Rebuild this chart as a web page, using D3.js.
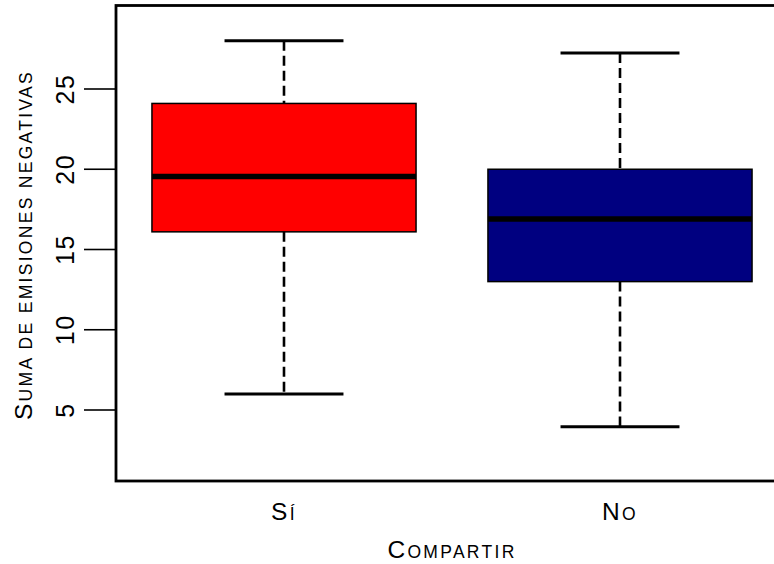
<!DOCTYPE html>
<html>
<head>
<meta charset="utf-8">
<script src="https://cdn.jsdelivr.net/npm/d3@7"></script>
<style>
  html, body { margin: 0; padding: 0; background: #fff; }
  svg { display: block; }
  text { font-family: "Liberation Sans", Arial, Helvetica, sans-serif; fill: #000; }
</style>
</head>
<body>
<svg id="chart" width="774" height="564"></svg>
<script>
// ---- data ----
const categories = ["Sí", "No"];
const whiskerLow  = [6, 3.95];
const q1          = [16.1, 13];
const median      = [19.55, 16.9];
const q3          = [24.1, 20];
const whiskerHigh = [28, 27.25];
const boxColors   = ["#FF0000", "#000080"];
const yTicks      = [5, 10, 15, 20, 25];
const xTitle      = "Compartir";
const yTitle      = "Suma de emisiones negativas";

// ---- layout ----
const svg = d3.select("#chart");
const plot = { left: 116, right: 788, top: 5.5, bottom: 481 };

const x = d3.scaleBand().domain(categories).range([plot.left, plot.right]).padding(0);
const y = d3.scaleLinear().domain([5, 25]).range([410, 89]);

const bw = x.bandwidth();
const boxHalf = bw * 0.393;
const capHalf = bw * 0.177;

const rows = categories.map((c, i) => ({
  c, lo: whiskerLow[i], q1: q1[i], med: median[i], q3: q3[i], hi: whiskerHigh[i], color: boxColors[i]
}));

const g = svg.append("g");

// whiskers (dashed)
g.selectAll(".wu").data(rows).enter().append("line")
  .attr("x1", d => x(d.c) + bw / 2).attr("x2", d => x(d.c) + bw / 2)
  .attr("y1", d => y(d.hi)).attr("y2", d => y(d.q3))
  .attr("stroke", "#000").attr("stroke-width", 2.6).attr("stroke-dasharray", "10,5");
g.selectAll(".wl").data(rows).enter().append("line")
  .attr("x1", d => x(d.c) + bw / 2).attr("x2", d => x(d.c) + bw / 2)
  .attr("y1", d => y(d.q1)).attr("y2", d => y(d.lo))
  .attr("stroke", "#000").attr("stroke-width", 2.6).attr("stroke-dasharray", "10,5");

// caps
["hi", "lo"].forEach(k => {
  g.selectAll(".cap-" + k).data(rows).enter().append("line")
    .attr("x1", d => x(d.c) + bw / 2 - capHalf).attr("x2", d => x(d.c) + bw / 2 + capHalf)
    .attr("y1", d => y(d[k])).attr("y2", d => y(d[k]))
    .attr("stroke", "#000").attr("stroke-width", 3);
});

// boxes
g.selectAll(".box").data(rows).enter().append("rect")
  .attr("x", d => x(d.c) + bw / 2 - boxHalf)
  .attr("width", boxHalf * 2)
  .attr("y", d => y(d.q3))
  .attr("height", d => y(d.q1) - y(d.q3))
  .attr("fill", d => d.color)
  .attr("stroke", "#000").attr("stroke-width", 1.5);

// medians
g.selectAll(".med").data(rows).enter().append("line")
  .attr("x1", d => x(d.c) + bw / 2 - boxHalf).attr("x2", d => x(d.c) + bw / 2 + boxHalf)
  .attr("y1", d => y(d.med)).attr("y2", d => y(d.med))
  .attr("stroke", "#000").attr("stroke-width", 5.5);

// frame
svg.append("rect")
  .attr("x", plot.left).attr("y", plot.top)
  .attr("width", plot.right - plot.left).attr("height", plot.bottom - plot.top)
  .attr("fill", "none").attr("stroke", "#000").attr("stroke-width", 2.8);

// y axis ticks
const yAxis = svg.append("g");
yAxis.selectAll("line").data(yTicks).enter().append("line")
  .attr("x1", 84).attr("x2", plot.left)
  .attr("y1", d => y(d)).attr("y2", d => y(d))
  .attr("stroke", "#000").attr("stroke-width", 1.6);
yAxis.selectAll("text").data(yTicks).enter().append("text")
  .attr("transform", d => `translate(73.5,${y(d)}) rotate(-90)`)
  .attr("text-anchor", "middle")
  .attr("font-size", 25)
  .attr("letter-spacing", 1.5)
  .text(d => d);

// small-caps helper
function smallCaps(sel, str, big, small) {
  let buf = "", isUpper = null;
  const runs = [];
  for (const ch of str) {
    const up = ch !== ch.toLowerCase() || ch === " " && isUpper;
    const u = (ch === " ") ? false : (ch === ch.toUpperCase() && ch !== ch.toLowerCase());
    if (isUpper === null) isUpper = u;
    if (u !== isUpper) { runs.push([buf, isUpper]); buf = ""; isUpper = u; }
    buf += ch;
  }
  if (buf) runs.push([buf, isUpper]);
  runs.forEach(([t, u]) => {
    sel.append("tspan").attr("font-size", u ? big : small).text(t.toUpperCase());
  });
}

// x category labels
rows.forEach(d => {
  const t = svg.append("text")
    .attr("x", x(d.c) + bw / 2).attr("y", 520)
    .attr("text-anchor", "middle")
    .attr("letter-spacing", 2.3);
  smallCaps(t, d.c, 24.5, 17.5);
});

// x title
const xt = svg.append("text")
  .attr("x", 452).attr("y", 558)
  .attr("text-anchor", "middle")
  .attr("letter-spacing", 2.3);
smallCaps(xt, xTitle, 24.5, 17.5);

// y title
const yt = svg.append("text")
  .attr("transform", `translate(32,245) rotate(-90)`)
  .attr("text-anchor", "middle")
  .attr("letter-spacing", 2.3);
smallCaps(yt, yTitle, 24.5, 17.5);
</script>
</body>
</html>
